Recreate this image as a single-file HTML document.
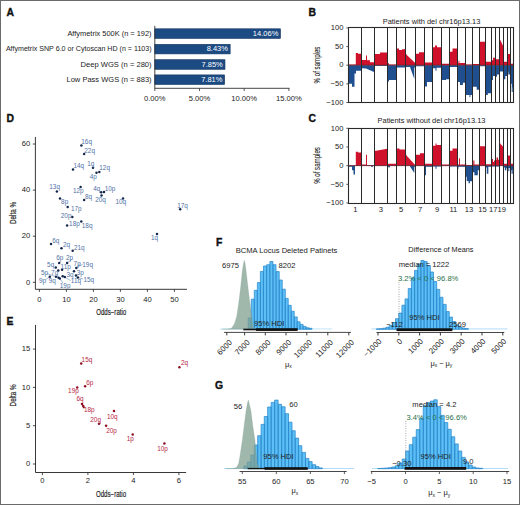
<!DOCTYPE html>
<html><head><meta charset="utf-8"><style>
html,body{margin:0;padding:0;background:#fff;}
svg{display:block;font-family:"Liberation Sans",sans-serif;}
</style></head><body>
<svg width="520" height="505" viewBox="0 0 520 505">
<rect width="520" height="505" fill="#fff"/>
<text x="6.60" y="16.30" font-size="10.4" font-weight="bold" fill="#111" stroke="#111" stroke-width="0.35">A</text>
<text x="308.40" y="16.30" font-size="10.4" font-weight="bold" fill="#111" stroke="#111" stroke-width="0.35">B</text>
<text x="308.40" y="122.30" font-size="10.4" font-weight="bold" fill="#111" stroke="#111" stroke-width="0.35">C</text>
<text x="6.40" y="121.60" font-size="10.4" font-weight="bold" fill="#111" stroke="#111" stroke-width="0.35">D</text>
<text x="6.60" y="325.00" font-size="10.4" font-weight="bold" fill="#111" stroke="#111" stroke-width="0.35">E</text>
<text x="216.00" y="246.20" font-size="10.4" font-weight="bold" fill="#111" stroke="#111" stroke-width="0.35">F</text>
<text x="215.00" y="388.70" font-size="10.4" font-weight="bold" fill="#111" stroke="#111" stroke-width="0.35">G</text>
<rect x="154.80" y="28.80" width="125.70" height="9.60" fill="#1c4b84" stroke="#15365f" stroke-width="0.6"/>
<text x="278.30" y="35.80" font-size="7.5" text-anchor="end" fill="#fff" >14.06%</text>
<text x="67.40" y="35.73" font-size="7.3" text-anchor="start" fill="#222"  textLength="84.20" lengthAdjust="spacingAndGlyphs">Affymetrix 500K (n = 192)</text>
<rect x="154.80" y="44.30" width="75.36" height="9.60" fill="#1c4b84" stroke="#15365f" stroke-width="0.6"/>
<text x="227.96" y="51.30" font-size="7.5" text-anchor="end" fill="#fff" >8.43%</text>
<text x="5.90" y="51.23" font-size="7.3" text-anchor="start" fill="#222"  textLength="145.70" lengthAdjust="spacingAndGlyphs">Affymetrix SNP 6.0 or Cytoscan HD (n = 1103)</text>
<rect x="154.80" y="59.70" width="70.18" height="9.60" fill="#1c4b84" stroke="#15365f" stroke-width="0.6"/>
<text x="222.78" y="66.70" font-size="7.5" text-anchor="end" fill="#fff" >7.85%</text>
<text x="80.60" y="66.63" font-size="7.3" text-anchor="start" fill="#222"  textLength="71.00" lengthAdjust="spacingAndGlyphs">Deep WGS (n = 280)</text>
<rect x="154.80" y="74.90" width="69.82" height="9.60" fill="#1c4b84" stroke="#15365f" stroke-width="0.6"/>
<text x="222.42" y="81.90" font-size="7.5" text-anchor="end" fill="#fff" >7.81%</text>
<text x="66.50" y="81.83" font-size="7.3" text-anchor="start" fill="#222"  textLength="85.10" lengthAdjust="spacingAndGlyphs">Low Pass WGS (n = 883)</text>
<line x1="154.80" y1="25.80" x2="154.80" y2="88.30" stroke="#333" stroke-width="0.9" />
<line x1="154.40" y1="88.30" x2="289.50" y2="88.30" stroke="#333" stroke-width="0.9" />
<line x1="154.80" y1="88.30" x2="154.80" y2="91.00" stroke="#333" stroke-width="0.8" />
<text x="154.80" y="100.74" font-size="7.6" text-anchor="middle" fill="#222" >0.00%</text>
<line x1="199.50" y1="88.30" x2="199.50" y2="91.00" stroke="#333" stroke-width="0.8" />
<text x="199.50" y="100.74" font-size="7.6" text-anchor="middle" fill="#222" >5.00%</text>
<line x1="244.20" y1="88.30" x2="244.20" y2="91.00" stroke="#333" stroke-width="0.8" />
<text x="244.20" y="100.74" font-size="7.6" text-anchor="middle" fill="#222" >10.00%</text>
<line x1="288.90" y1="88.30" x2="288.90" y2="91.00" stroke="#333" stroke-width="0.8" />
<text x="288.90" y="100.74" font-size="7.6" text-anchor="middle" fill="#222" >15.00%</text>
<path d="M349.00,65.20 L349.00,64.45 L355.80,64.45 L355.80,52.89 L358.00,52.89 L358.00,53.64 L361.60,53.64 L361.60,59.98 L366.00,59.98 L366.00,55.50 L367.00,55.50 L367.00,60.35 L370.00,60.35 L370.00,62.22 L374.60,62.22 L374.60,54.01 L380.00,54.01 L380.00,52.52 L387.30,52.52 L387.30,63.34 L389.00,63.34 L389.00,64.45 L396.60,64.45 L396.60,48.42 L399.00,48.42 L399.00,49.91 L402.00,49.91 L402.00,49.16 L405.60,49.16 L405.60,54.01 L406.50,54.01 L406.50,54.76 L415.50,63.34 L415.50,53.64 L419.00,53.64 L419.00,52.15 L424.50,52.15 L424.50,62.59 L432.70,62.59 L432.70,47.30 L435.00,47.30 L435.00,45.43 L437.00,45.43 L437.00,47.30 L441.30,47.30 L441.30,63.71 L449.60,63.71 L449.60,51.77 L452.50,51.77 L452.50,48.42 L457.20,48.42 L457.20,63.34 L458.47,63.34 L458.47,60.72 L459.45,60.72 L459.45,62.96 L465.50,62.96 L465.50,64.45 L472.50,64.45 L472.50,64.08 L479.20,64.08 L479.20,41.70 L485.60,41.70 L485.60,61.84 L491.00,61.84 L491.00,60.35 L493.00,60.35 L493.00,57.74 L495.60,57.74 L495.60,59.23 L499.80,59.23 L499.80,40.21 L500.56,40.21 L500.56,40.58 L503.70,47.30 L503.70,61.84 L507.45,61.84 L507.45,54.01 L510.65,54.01 L510.65,63.71 L513.70,63.71 L513.70,65.20 Z" fill="#d0112b"/>
<path d="M349.00,65.20 L349.00,83.85 L352.00,83.85 L352.00,86.83 L354.50,86.83 L354.50,73.41 L356.00,73.41 L356.00,70.80 L361.60,70.80 L361.60,68.18 L366.00,68.56 L366.00,68.56 L374.60,72.29 L374.60,65.95 L387.30,65.95 L387.30,81.61 L389.00,81.61 L389.00,80.12 L396.60,80.12 L396.60,67.44 L405.60,67.44 L405.60,67.06 L410.00,67.06 L410.00,67.06 L414.30,79.00 L414.30,67.44 L415.50,67.44 L415.50,66.32 L424.50,66.32 L424.50,86.46 L427.00,86.46 L427.00,81.98 L432.70,81.98 L432.70,68.18 L435.50,68.18 L435.50,70.80 L436.50,70.80 L436.50,67.81 L441.30,67.81 L441.30,80.12 L446.00,80.12 L446.00,79.37 L449.60,79.37 L449.60,67.06 L457.20,67.06 L457.20,81.98 L459.93,81.98 L459.93,84.97 L462.86,84.97 L462.86,82.73 L465.50,82.73 L465.50,95.04 L469.46,95.04 L469.46,97.28 L470.38,97.28 L470.38,95.04 L472.50,95.04 L472.50,86.83 L476.70,86.83 L476.70,89.82 L479.20,89.82 L479.20,66.32 L485.60,66.32 L485.60,95.04 L487.82,95.04 L487.82,93.18 L491.00,93.18 L491.00,80.12 L493.00,80.12 L493.00,76.02 L495.60,76.02 L495.60,76.76 L497.03,76.76 L497.03,74.53 L499.80,74.53 L499.80,71.54 L503.70,71.54 L503.70,79.37 L505.38,79.37 L505.38,76.02 L507.45,76.02 L507.45,71.54 L508.32,71.54 L508.32,74.53 L510.65,74.53 L510.65,83.85 L511.73,83.85 L511.73,92.06 L512.72,92.06 L512.72,87.58 L513.70,87.58 L513.70,65.20 Z" fill="#1f4f8f"/>
<line x1="349.00" y1="65.20" x2="513.70" y2="65.20" stroke="#5a1a22" stroke-width="0.7" />
<line x1="361.50" y1="27.90" x2="361.50" y2="102.50" stroke="#2a2a2a" stroke-width="1.0" />
<line x1="374.50" y1="27.90" x2="374.50" y2="102.50" stroke="#2a2a2a" stroke-width="1.0" />
<line x1="387.50" y1="27.90" x2="387.50" y2="102.50" stroke="#2a2a2a" stroke-width="1.0" />
<line x1="396.50" y1="27.90" x2="396.50" y2="102.50" stroke="#2a2a2a" stroke-width="1.0" />
<line x1="405.50" y1="27.90" x2="405.50" y2="102.50" stroke="#2a2a2a" stroke-width="1.0" />
<line x1="415.50" y1="27.90" x2="415.50" y2="102.50" stroke="#2a2a2a" stroke-width="1.0" />
<line x1="424.50" y1="27.90" x2="424.50" y2="102.50" stroke="#2a2a2a" stroke-width="1.0" />
<line x1="432.50" y1="27.90" x2="432.50" y2="102.50" stroke="#2a2a2a" stroke-width="1.0" />
<line x1="441.50" y1="27.90" x2="441.50" y2="102.50" stroke="#2a2a2a" stroke-width="1.0" />
<line x1="449.50" y1="27.90" x2="449.50" y2="102.50" stroke="#2a2a2a" stroke-width="1.0" />
<line x1="457.50" y1="27.90" x2="457.50" y2="102.50" stroke="#2a2a2a" stroke-width="1.0" />
<line x1="465.50" y1="27.90" x2="465.50" y2="102.50" stroke="#2a2a2a" stroke-width="1.0" />
<line x1="472.50" y1="27.90" x2="472.50" y2="102.50" stroke="#2a2a2a" stroke-width="1.0" />
<line x1="479.50" y1="27.90" x2="479.50" y2="102.50" stroke="#2a2a2a" stroke-width="1.0" />
<line x1="485.50" y1="27.90" x2="485.50" y2="102.50" stroke="#2a2a2a" stroke-width="1.0" />
<line x1="491.50" y1="27.90" x2="491.50" y2="102.50" stroke="#2a2a2a" stroke-width="1.0" />
<line x1="495.50" y1="27.90" x2="495.50" y2="102.50" stroke="#2a2a2a" stroke-width="1.0" />
<line x1="499.50" y1="27.90" x2="499.50" y2="102.50" stroke="#2a2a2a" stroke-width="1.0" />
<line x1="503.50" y1="27.90" x2="503.50" y2="102.50" stroke="#2a2a2a" stroke-width="1.0" />
<line x1="507.50" y1="27.90" x2="507.50" y2="102.50" stroke="#2a2a2a" stroke-width="1.0" />
<line x1="510.50" y1="27.90" x2="510.50" y2="102.50" stroke="#2a2a2a" stroke-width="1.0" />
<rect x="348.5" y="27.50" width="165.00" height="75.00" fill="none" stroke="#2a2a2a" stroke-width="1.1"/>
<line x1="346.30" y1="27.90" x2="349.00" y2="27.90" stroke="#333" stroke-width="0.8" />
<text x="343.40" y="30.14" font-size="7.6" text-anchor="end" fill="#222" >100</text>
<line x1="346.30" y1="46.55" x2="349.00" y2="46.55" stroke="#333" stroke-width="0.8" />
<text x="343.40" y="48.79" font-size="7.6" text-anchor="end" fill="#222" >50</text>
<line x1="346.30" y1="65.20" x2="349.00" y2="65.20" stroke="#333" stroke-width="0.8" />
<text x="343.40" y="67.44" font-size="7.6" text-anchor="end" fill="#222" >0</text>
<line x1="346.30" y1="83.85" x2="349.00" y2="83.85" stroke="#333" stroke-width="0.8" />
<text x="343.40" y="86.09" font-size="7.6" text-anchor="end" fill="#222" >−50</text>
<line x1="346.30" y1="102.50" x2="349.00" y2="102.50" stroke="#333" stroke-width="0.8" />
<text x="343.40" y="104.74" font-size="7.6" text-anchor="end" fill="#222" >−100</text>
<text x="431.50" y="23.98" font-size="7.45" text-anchor="middle" fill="#222" >Patients with del chr16p13.13</text>
<text transform="translate(319.8,65.00) rotate(-90) scale(0.73,1)" font-size="8.4" text-anchor="middle" fill="#222" stroke="#222" stroke-width="0.08">% of samples</text>
<path d="M349.00,165.65 L349.00,165.28 L355.80,165.28 L355.80,151.83 L358.00,151.83 L358.00,152.58 L361.60,152.58 L361.60,164.53 L366.00,164.53 L366.00,154.82 L367.00,154.82 L367.00,164.90 L374.60,164.90 L374.60,151.08 L387.30,148.84 L387.30,163.78 L396.60,163.78 L396.60,148.47 L399.50,148.47 L399.50,149.59 L405.60,149.59 L405.60,154.82 L406.50,154.82 L406.50,155.57 L414.00,163.78 L414.00,164.16 L415.50,164.16 L415.50,154.82 L420.00,154.82 L420.00,153.32 L424.50,153.32 L424.50,163.78 L432.70,163.78 L432.70,145.85 L435.50,145.85 L435.50,143.61 L436.50,143.61 L436.50,145.11 L441.30,145.11 L441.30,164.53 L449.60,164.53 L449.60,150.71 L452.50,150.71 L452.50,148.47 L457.20,148.47 L457.20,164.53 L458.96,164.53 L458.96,158.18 L459.93,158.18 L459.93,164.53 L465.50,164.53 L465.50,163.41 L466.24,163.41 L466.24,164.90 L472.50,164.90 L472.50,164.53 L473.29,164.53 L473.29,160.42 L474.43,160.42 L474.43,164.53 L479.20,164.53 L479.20,146.23 L485.60,146.23 L485.60,164.16 L491.00,164.16 L491.00,161.17 L492.00,161.17 L492.00,158.93 L493.00,158.93 L493.00,161.92 L494.00,161.92 L494.00,160.42 L495.60,160.42 L495.60,160.05 L496.52,160.05 L496.52,157.43 L498.06,157.43 L498.06,159.67 L499.80,159.67 L499.80,143.61 L500.56,143.61 L500.56,143.99 L503.70,147.35 L503.70,163.78 L507.45,163.78 L507.45,155.57 L510.65,155.57 L510.65,163.78 L513.70,163.78 L513.70,165.65 Z" fill="#d0112b"/>
<path d="M349.00,165.65 L349.00,166.77 L352.00,166.77 L352.00,170.13 L353.50,170.13 L353.50,174.61 L355.00,174.61 L355.00,166.02 L361.60,166.02 L361.60,166.02 L371.00,166.02 L371.00,166.77 L373.00,166.77 L373.00,166.02 L374.60,166.02 L374.60,166.02 L387.30,166.02 L387.30,167.14 L390.00,167.14 L390.00,166.02 L396.60,166.02 L396.60,166.02 L405.60,166.02 L405.60,166.02 L410.00,166.02 L410.00,166.40 L414.30,173.12 L414.30,166.77 L415.50,166.77 L415.50,166.02 L424.50,166.02 L424.50,175.36 L426.00,175.36 L426.00,166.77 L432.70,166.77 L432.70,166.40 L435.50,166.40 L435.50,168.64 L436.50,168.64 L436.50,166.40 L441.30,166.40 L441.30,166.02 L449.60,166.02 L449.60,166.40 L457.20,166.40 L457.20,168.64 L458.47,168.64 L458.47,166.77 L465.50,166.77 L465.50,176.86 L466.70,176.86 L466.70,180.96 L468.54,180.96 L468.54,183.20 L469.92,183.20 L469.92,181.34 L472.50,181.34 L472.50,172.37 L474.43,172.37 L474.43,175.36 L477.84,175.36 L477.84,170.13 L479.20,170.13 L479.20,166.02 L485.60,166.02 L485.60,167.52 L486.76,167.52 L486.76,173.87 L488.35,173.87 L488.35,166.77 L491.00,166.77 L491.00,166.40 L495.60,166.40 L495.60,166.40 L499.80,166.40 L499.80,166.02 L503.70,166.02 L503.70,167.52 L504.88,167.52 L504.88,170.13 L506.36,170.13 L506.36,167.89 L507.45,167.89 L507.45,167.89 L508.32,167.89 L508.32,171.25 L509.29,171.25 L509.29,167.89 L510.65,167.89 L510.65,170.13 L511.54,170.13 L511.54,173.87 L512.72,173.87 L512.72,169.38 L513.70,169.38 L513.70,165.65 Z" fill="#1f4f8f"/>
<line x1="349.00" y1="165.65" x2="513.70" y2="165.65" stroke="#5a1a22" stroke-width="0.7" />
<line x1="361.50" y1="128.30" x2="361.50" y2="203.00" stroke="#2a2a2a" stroke-width="1.0" />
<line x1="374.50" y1="128.30" x2="374.50" y2="203.00" stroke="#2a2a2a" stroke-width="1.0" />
<line x1="387.50" y1="128.30" x2="387.50" y2="203.00" stroke="#2a2a2a" stroke-width="1.0" />
<line x1="396.50" y1="128.30" x2="396.50" y2="203.00" stroke="#2a2a2a" stroke-width="1.0" />
<line x1="405.50" y1="128.30" x2="405.50" y2="203.00" stroke="#2a2a2a" stroke-width="1.0" />
<line x1="415.50" y1="128.30" x2="415.50" y2="203.00" stroke="#2a2a2a" stroke-width="1.0" />
<line x1="424.50" y1="128.30" x2="424.50" y2="203.00" stroke="#2a2a2a" stroke-width="1.0" />
<line x1="432.50" y1="128.30" x2="432.50" y2="203.00" stroke="#2a2a2a" stroke-width="1.0" />
<line x1="441.50" y1="128.30" x2="441.50" y2="203.00" stroke="#2a2a2a" stroke-width="1.0" />
<line x1="449.50" y1="128.30" x2="449.50" y2="203.00" stroke="#2a2a2a" stroke-width="1.0" />
<line x1="457.50" y1="128.30" x2="457.50" y2="203.00" stroke="#2a2a2a" stroke-width="1.0" />
<line x1="465.50" y1="128.30" x2="465.50" y2="203.00" stroke="#2a2a2a" stroke-width="1.0" />
<line x1="472.50" y1="128.30" x2="472.50" y2="203.00" stroke="#2a2a2a" stroke-width="1.0" />
<line x1="479.50" y1="128.30" x2="479.50" y2="203.00" stroke="#2a2a2a" stroke-width="1.0" />
<line x1="485.50" y1="128.30" x2="485.50" y2="203.00" stroke="#2a2a2a" stroke-width="1.0" />
<line x1="491.50" y1="128.30" x2="491.50" y2="203.00" stroke="#2a2a2a" stroke-width="1.0" />
<line x1="495.50" y1="128.30" x2="495.50" y2="203.00" stroke="#2a2a2a" stroke-width="1.0" />
<line x1="499.50" y1="128.30" x2="499.50" y2="203.00" stroke="#2a2a2a" stroke-width="1.0" />
<line x1="503.50" y1="128.30" x2="503.50" y2="203.00" stroke="#2a2a2a" stroke-width="1.0" />
<line x1="507.50" y1="128.30" x2="507.50" y2="203.00" stroke="#2a2a2a" stroke-width="1.0" />
<line x1="510.50" y1="128.30" x2="510.50" y2="203.00" stroke="#2a2a2a" stroke-width="1.0" />
<rect x="348.5" y="128.50" width="165.00" height="75.00" fill="none" stroke="#2a2a2a" stroke-width="1.1"/>
<line x1="346.30" y1="128.30" x2="349.00" y2="128.30" stroke="#333" stroke-width="0.8" />
<text x="343.40" y="130.54" font-size="7.6" text-anchor="end" fill="#222" >100</text>
<line x1="346.30" y1="146.98" x2="349.00" y2="146.98" stroke="#333" stroke-width="0.8" />
<text x="343.40" y="149.21" font-size="7.6" text-anchor="end" fill="#222" >50</text>
<line x1="346.30" y1="165.65" x2="349.00" y2="165.65" stroke="#333" stroke-width="0.8" />
<text x="343.40" y="167.89" font-size="7.6" text-anchor="end" fill="#222" >0</text>
<line x1="346.30" y1="184.32" x2="349.00" y2="184.32" stroke="#333" stroke-width="0.8" />
<text x="343.40" y="186.56" font-size="7.6" text-anchor="end" fill="#222" >−50</text>
<line x1="346.30" y1="203.00" x2="349.00" y2="203.00" stroke="#333" stroke-width="0.8" />
<text x="343.40" y="205.24" font-size="7.6" text-anchor="end" fill="#222" >−100</text>
<text x="431.50" y="122.88" font-size="7.45" text-anchor="middle" fill="#222" >Patients without del chr16p13.13</text>
<text transform="translate(319.8,165.45) rotate(-90) scale(0.73,1)" font-size="8.4" text-anchor="middle" fill="#222" stroke="#222" stroke-width="0.08">% of samples</text>
<text x="355.30" y="212.44" font-size="7.6" text-anchor="middle" fill="#222" >1</text>
<text x="380.95" y="212.44" font-size="7.6" text-anchor="middle" fill="#222" >3</text>
<text x="401.10" y="212.44" font-size="7.6" text-anchor="middle" fill="#222" >5</text>
<text x="420.00" y="212.44" font-size="7.6" text-anchor="middle" fill="#222" >7</text>
<text x="437.00" y="212.44" font-size="7.6" text-anchor="middle" fill="#222" >9</text>
<text x="453.40" y="212.44" font-size="7.6" text-anchor="middle" fill="#222" >11</text>
<text x="469.00" y="212.44" font-size="7.6" text-anchor="middle" fill="#222" >13</text>
<text x="482.40" y="212.44" font-size="7.6" text-anchor="middle" fill="#222" >15</text>
<text x="493.30" y="212.44" font-size="7.6" text-anchor="middle" fill="#222" >17</text>
<text x="501.75" y="212.44" font-size="7.6" text-anchor="middle" fill="#222" >19</text>
<line x1="35.40" y1="136.90" x2="35.40" y2="289.30" stroke="#222" stroke-width="0.9" />
<line x1="35.40" y1="289.30" x2="187.00" y2="289.30" stroke="#222" stroke-width="0.9" />
<line x1="39.40" y1="289.30" x2="39.40" y2="291.90" stroke="#222" stroke-width="0.8" />
<text x="39.40" y="301.74" font-size="7.6" text-anchor="middle" fill="#222" >0</text>
<line x1="66.40" y1="289.30" x2="66.40" y2="291.90" stroke="#222" stroke-width="0.8" />
<text x="66.40" y="301.74" font-size="7.6" text-anchor="middle" fill="#222" >10</text>
<line x1="93.40" y1="289.30" x2="93.40" y2="291.90" stroke="#222" stroke-width="0.8" />
<text x="93.40" y="301.74" font-size="7.6" text-anchor="middle" fill="#222" >20</text>
<line x1="120.40" y1="289.30" x2="120.40" y2="291.90" stroke="#222" stroke-width="0.8" />
<text x="120.40" y="301.74" font-size="7.6" text-anchor="middle" fill="#222" >30</text>
<line x1="147.40" y1="289.30" x2="147.40" y2="291.90" stroke="#222" stroke-width="0.8" />
<text x="147.40" y="301.74" font-size="7.6" text-anchor="middle" fill="#222" >40</text>
<line x1="174.40" y1="289.30" x2="174.40" y2="291.90" stroke="#222" stroke-width="0.8" />
<text x="174.40" y="301.74" font-size="7.6" text-anchor="middle" fill="#222" >50</text>
<line x1="32.80" y1="282.30" x2="35.40" y2="282.30" stroke="#222" stroke-width="0.8" />
<text x="30.20" y="284.54" font-size="7.6" text-anchor="end" fill="#222" >0</text>
<line x1="32.80" y1="236.20" x2="35.40" y2="236.20" stroke="#222" stroke-width="0.8" />
<text x="30.20" y="238.44" font-size="7.6" text-anchor="end" fill="#222" >20</text>
<line x1="32.80" y1="190.10" x2="35.40" y2="190.10" stroke="#222" stroke-width="0.8" />
<text x="30.20" y="192.34" font-size="7.6" text-anchor="end" fill="#222" >40</text>
<line x1="32.80" y1="144.00" x2="35.40" y2="144.00" stroke="#222" stroke-width="0.8" />
<text x="30.20" y="146.24" font-size="7.6" text-anchor="end" fill="#222" >60</text>
<text transform="translate(111.20,314.60) scale(0.73,1)" font-size="8.4" text-anchor="middle" fill="#222" stroke="#222" stroke-width="0.18">Odds−ratio</text>
<text transform="translate(16.2,213.00) rotate(-90) scale(0.75,1)" font-size="8.4" text-anchor="middle" fill="#222" stroke="#222" stroke-width="0.18">Delta %</text>
<line x1="72.00" y1="259.50" x2="67.40" y2="262.50" stroke="#4f72a6" stroke-width="0.5" />
<line x1="82.50" y1="264.50" x2="76.50" y2="267.60" stroke="#4f72a6" stroke-width="0.5" />
<line x1="47.00" y1="273.50" x2="55.60" y2="276.50" stroke="#4f72a6" stroke-width="0.5" />
<line x1="45.50" y1="279.50" x2="49.50" y2="277.00" stroke="#4f72a6" stroke-width="0.5" />
<line x1="70.50" y1="280.50" x2="65.00" y2="277.30" stroke="#4f72a6" stroke-width="0.5" />
<line x1="83.20" y1="279.00" x2="78.20" y2="277.60" stroke="#4f72a6" stroke-width="0.5" />
<line x1="63.00" y1="283.00" x2="59.90" y2="278.80" stroke="#4f72a6" stroke-width="0.5" />
<line x1="80.00" y1="263.50" x2="76.40" y2="267.60" stroke="#4f72a6" stroke-width="0.5" />
<circle cx="81.40" cy="145.40" r="1.25" fill="#14284d"/>
<text x="81.30" y="143.60" font-size="6.4" text-anchor="start" fill="#4f72a6" >16q</text>
<circle cx="84.10" cy="154.10" r="1.25" fill="#14284d"/>
<text x="84.30" y="152.90" font-size="6.4" text-anchor="start" fill="#4f72a6" >22q</text>
<circle cx="73.00" cy="169.60" r="1.25" fill="#14284d"/>
<text x="73.50" y="168.40" font-size="6.4" text-anchor="start" fill="#4f72a6" >14q</text>
<circle cx="93.00" cy="167.70" r="1.25" fill="#14284d"/>
<text x="87.30" y="166.30" font-size="6.4" text-anchor="start" fill="#4f72a6" >1q</text>
<circle cx="96.50" cy="172.80" r="1.25" fill="#14284d"/>
<circle cx="99.30" cy="172.00" r="1.25" fill="#14284d"/>
<text x="99.30" y="170.30" font-size="6.4" text-anchor="start" fill="#4f72a6" >12q</text>
<text x="89.80" y="178.70" font-size="6.4" text-anchor="start" fill="#4f72a6" >4p</text>
<circle cx="80.60" cy="186.90" r="1.25" fill="#14284d"/>
<text x="73.00" y="193.20" font-size="6.4" text-anchor="start" fill="#4f72a6" >12p</text>
<circle cx="101.20" cy="192.30" r="1.25" fill="#14284d"/>
<text x="93.30" y="190.60" font-size="6.4" text-anchor="start" fill="#4f72a6" >4q</text>
<circle cx="104.00" cy="192.10" r="1.25" fill="#14284d"/>
<text x="104.70" y="190.90" font-size="6.4" text-anchor="start" fill="#4f72a6" >10p</text>
<circle cx="101.50" cy="195.50" r="1.25" fill="#14284d"/>
<text x="95.20" y="202.00" font-size="6.4" text-anchor="start" fill="#4f72a6" >20q</text>
<circle cx="84.10" cy="200.00" r="1.25" fill="#14284d"/>
<text x="85.00" y="198.90" font-size="6.4" text-anchor="start" fill="#4f72a6" >8q</text>
<circle cx="123.00" cy="198.50" r="1.25" fill="#14284d"/>
<text x="115.50" y="204.40" font-size="6.4" text-anchor="start" fill="#4f72a6" >10q</text>
<circle cx="56.90" cy="191.60" r="1.25" fill="#14284d"/>
<text x="49.30" y="189.40" font-size="6.4" text-anchor="start" fill="#4f72a6" >13q</text>
<circle cx="60.00" cy="198.40" r="1.25" fill="#14284d"/>
<text x="61.10" y="204.30" font-size="6.4" text-anchor="start" fill="#4f72a6" >8p</text>
<circle cx="67.70" cy="207.10" r="1.25" fill="#14284d"/>
<text x="70.90" y="210.80" font-size="6.4" text-anchor="start" fill="#4f72a6" >17p</text>
<circle cx="72.30" cy="217.10" r="1.25" fill="#14284d"/>
<text x="60.80" y="217.90" font-size="6.4" text-anchor="start" fill="#4f72a6" >20p</text>
<circle cx="67.10" cy="225.40" r="1.25" fill="#14284d"/>
<text x="69.10" y="226.30" font-size="6.4" text-anchor="start" fill="#4f72a6" >18p</text>
<circle cx="81.30" cy="221.60" r="1.25" fill="#14284d"/>
<text x="81.80" y="228.00" font-size="6.4" text-anchor="start" fill="#4f72a6" >18q</text>
<circle cx="180.20" cy="209.30" r="1.25" fill="#14284d"/>
<text x="177.20" y="208.30" font-size="6.4" text-anchor="start" fill="#4f72a6" >17q</text>
<circle cx="157.00" cy="234.00" r="1.25" fill="#14284d"/>
<text x="151.00" y="239.90" font-size="6.4" text-anchor="start" fill="#4f72a6" >1q</text>
<circle cx="51.00" cy="244.00" r="1.25" fill="#14284d"/>
<text x="52.30" y="243.30" font-size="6.4" text-anchor="start" fill="#4f72a6" >6q</text>
<circle cx="61.50" cy="248.30" r="1.25" fill="#14284d"/>
<text x="63.00" y="246.70" font-size="6.4" text-anchor="start" fill="#4f72a6" >2q</text>
<circle cx="72.70" cy="250.80" r="1.25" fill="#14284d"/>
<text x="74.00" y="249.60" font-size="6.4" text-anchor="start" fill="#4f72a6" >21q</text>
<circle cx="59.20" cy="262.90" r="1.25" fill="#14284d"/>
<text x="56.30" y="260.10" font-size="6.4" text-anchor="start" fill="#4f72a6" >6p</text>
<circle cx="67.10" cy="262.90" r="1.25" fill="#14284d"/>
<text x="65.90" y="259.50" font-size="6.4" text-anchor="start" fill="#4f72a6" >2p</text>
<circle cx="55.80" cy="267.50" r="1.25" fill="#14284d"/>
<text x="47.10" y="267.30" font-size="6.4" text-anchor="start" fill="#4f72a6" >5q</text>
<circle cx="58.30" cy="270.50" r="1.25" fill="#14284d"/>
<circle cx="62.10" cy="269.80" r="1.25" fill="#14284d"/>
<text x="60.60" y="269.40" font-size="6.4" text-anchor="start" fill="#4f72a6" >11p</text>
<circle cx="76.30" cy="267.90" r="1.25" fill="#14284d"/>
<text x="73.60" y="265.90" font-size="6.4" text-anchor="start" fill="#4f72a6" >7p</text>
<text x="82.30" y="267.10" font-size="6.4" text-anchor="start" fill="#4f72a6" >19q</text>
<circle cx="74.00" cy="271.30" r="1.25" fill="#14284d"/>
<text x="76.80" y="274.80" font-size="6.4" text-anchor="start" fill="#4f72a6" >3p</text>
<text x="41.00" y="274.80" font-size="6.4" text-anchor="start" fill="#4f72a6" >5p</text>
<circle cx="56.00" cy="276.80" r="1.25" fill="#14284d"/>
<text x="51.10" y="274.80" font-size="6.4" text-anchor="start" fill="#4f72a6" >7q</text>
<circle cx="62.70" cy="276.30" r="1.25" fill="#14284d"/>
<circle cx="64.80" cy="277.10" r="1.25" fill="#14284d"/>
<text x="66.40" y="276.50" font-size="6.4" text-anchor="start" fill="#4f72a6" >3q</text>
<circle cx="49.80" cy="276.80" r="1.25" fill="#14284d"/>
<text x="39.00" y="282.90" font-size="6.4" text-anchor="start" fill="#4f72a6" >9p</text>
<circle cx="58.60" cy="277.70" r="1.25" fill="#14284d"/>
<text x="48.80" y="283.20" font-size="6.4" text-anchor="start" fill="#4f72a6" >9q</text>
<circle cx="59.80" cy="278.60" r="1.25" fill="#14284d"/>
<text x="59.80" y="287.50" font-size="6.4" text-anchor="start" fill="#4f72a6" >19p</text>
<text x="70.80" y="283.40" font-size="6.4" text-anchor="start" fill="#4f72a6" >11q</text>
<circle cx="76.00" cy="275.60" r="1.25" fill="#14284d"/>
<circle cx="77.90" cy="277.50" r="1.25" fill="#14284d"/>
<text x="83.40" y="281.70" font-size="6.4" text-anchor="start" fill="#4f72a6" >15q</text>
<line x1="35.50" y1="324.90" x2="35.50" y2="472.50" stroke="#222" stroke-width="0.9" />
<line x1="35.50" y1="472.50" x2="186.10" y2="472.50" stroke="#222" stroke-width="0.9" />
<line x1="42.40" y1="472.50" x2="42.40" y2="475.10" stroke="#222" stroke-width="0.8" />
<text x="42.40" y="483.04" font-size="7.6" text-anchor="middle" fill="#222" >0</text>
<line x1="87.90" y1="472.50" x2="87.90" y2="475.10" stroke="#222" stroke-width="0.8" />
<text x="87.90" y="483.04" font-size="7.6" text-anchor="middle" fill="#222" >2</text>
<line x1="133.40" y1="472.50" x2="133.40" y2="475.10" stroke="#222" stroke-width="0.8" />
<text x="133.40" y="483.04" font-size="7.6" text-anchor="middle" fill="#222" >4</text>
<line x1="178.90" y1="472.50" x2="178.90" y2="475.10" stroke="#222" stroke-width="0.8" />
<text x="178.90" y="483.04" font-size="7.6" text-anchor="middle" fill="#222" >6</text>
<line x1="32.90" y1="464.00" x2="35.50" y2="464.00" stroke="#222" stroke-width="0.8" />
<text x="30.30" y="466.24" font-size="7.6" text-anchor="end" fill="#222" >0</text>
<line x1="32.90" y1="425.70" x2="35.50" y2="425.70" stroke="#222" stroke-width="0.8" />
<text x="30.30" y="427.94" font-size="7.6" text-anchor="end" fill="#222" >5</text>
<line x1="32.90" y1="387.40" x2="35.50" y2="387.40" stroke="#222" stroke-width="0.8" />
<text x="30.30" y="389.64" font-size="7.6" text-anchor="end" fill="#222" >10</text>
<line x1="32.90" y1="349.10" x2="35.50" y2="349.10" stroke="#222" stroke-width="0.8" />
<text x="30.30" y="351.34" font-size="7.6" text-anchor="end" fill="#222" >15</text>
<text transform="translate(111.00,496.60) scale(0.73,1)" font-size="8.4" text-anchor="middle" fill="#222" stroke="#222" stroke-width="0.18">Odds−ratio</text>
<text transform="translate(16.2,395.4) rotate(-90) scale(0.75,1)" font-size="8.4" text-anchor="middle" fill="#222" stroke="#222" stroke-width="0.18">Delta %</text>
<circle cx="81.20" cy="363.60" r="1.25" fill="#8e0f22"/>
<text x="81.60" y="362.10" font-size="6.4" text-anchor="start" fill="#b8243f" >15q</text>
<circle cx="179.40" cy="367.20" r="1.25" fill="#8e0f22"/>
<text x="181.00" y="364.80" font-size="6.4" text-anchor="start" fill="#b8243f" >2q</text>
<circle cx="77.20" cy="387.40" r="1.25" fill="#8e0f22"/>
<text x="68.10" y="393.40" font-size="6.4" text-anchor="start" fill="#b8243f" >19p</text>
<circle cx="85.10" cy="386.20" r="1.25" fill="#8e0f22"/>
<text x="86.30" y="385.40" font-size="6.4" text-anchor="start" fill="#b8243f" >6p</text>
<circle cx="82.00" cy="404.00" r="1.25" fill="#8e0f22"/>
<text x="76.40" y="401.30" font-size="6.4" text-anchor="start" fill="#b8243f" >6q</text>
<circle cx="83.20" cy="406.00" r="1.25" fill="#8e0f22"/>
<text x="84.00" y="412.40" font-size="6.4" text-anchor="start" fill="#b8243f" >18p</text>
<circle cx="99.00" cy="423.80" r="1.25" fill="#8e0f22"/>
<text x="90.30" y="422.30" font-size="6.4" text-anchor="start" fill="#b8243f" >20q</text>
<circle cx="114.00" cy="411.10" r="1.25" fill="#8e0f22"/>
<text x="107.00" y="418.70" font-size="6.4" text-anchor="start" fill="#b8243f" >10q</text>
<circle cx="106.10" cy="425.80" r="1.25" fill="#8e0f22"/>
<text x="106.20" y="432.50" font-size="6.4" text-anchor="start" fill="#b8243f" >20p</text>
<circle cx="132.70" cy="434.50" r="1.25" fill="#8e0f22"/>
<text x="126.70" y="441.30" font-size="6.4" text-anchor="start" fill="#b8243f" >1p</text>
<circle cx="164.40" cy="443.60" r="1.25" fill="#8e0f22"/>
<text x="157.20" y="450.80" font-size="6.4" text-anchor="start" fill="#b8243f" >10p</text>
<circle cx="83.8" cy="407.3" r="1.1" fill="#8e0f22"/>
<rect x="220.00" y="328.60" width="112.00" height="0.70" fill="#a6d9f5" />
<path d="M248.18,329.30 V318.00 H251.23 V329.30 Z M251.28,329.30 V299.20 H254.33 V329.30 Z M254.28,329.30 V290.30 H257.32 V329.30 Z M257.38,329.30 V282.60 H260.43 V329.30 Z M260.38,329.30 V271.40 H263.43 V329.30 Z M263.48,329.30 V266.00 H266.52 V329.30 Z M266.68,329.30 V264.70 H269.72 V329.30 Z M269.88,329.30 V261.50 H272.93 V329.30 Z M272.98,329.30 V264.70 H276.02 V329.30 Z M276.18,329.30 V271.60 H279.22 V329.30 Z M279.18,329.30 V280.00 H282.22 V329.30 Z M282.28,329.30 V289.20 H285.32 V329.30 Z M285.18,329.30 V298.40 H288.22 V329.30 Z M288.18,329.30 V305.30 H291.22 V329.30 Z M291.18,329.30 V311.20 H294.22 V329.30 Z M294.18,329.30 V316.90 H297.22 V329.30 Z M297.08,329.30 V321.80 H300.12 V329.30 Z M300.08,329.30 V324.40 H303.12 V329.30 Z M303.08,329.30 V326.40 H306.12 V329.30 Z M305.98,329.30 V327.80 H309.02 V329.30 Z M308.98,329.30 V328.30 H312.02 V329.30 Z" fill="#5cc0f6" stroke="#2c88cc" stroke-width="0.75"/>
<path d="M222.00,329.30 L228.00,329.00 L231.50,328.30 L234.50,323.70 L236.80,316.20 L239.00,301.10 L240.80,286.10 L242.30,271.00 L243.50,263.50 L244.30,260.20 L245.10,263.50 L246.10,271.00 L247.80,286.10 L249.60,301.10 L251.80,316.20 L252.60,323.70 L253.60,328.30 L256.00,329.00 L262.00,329.30 Z" fill="#809f90" fill-opacity="0.75" stroke="#809f90" stroke-opacity="0.5" stroke-width="0.5"/>
<rect x="243.30" y="328.70" width="54.20" height="1.60" fill="#111" />
<rect x="256.00" y="328.30" width="41.50" height="2.60" fill="#111" />
<line x1="224.10" y1="332.40" x2="351.00" y2="332.40" stroke="#333" stroke-width="0.9" />
<line x1="226.80" y1="332.40" x2="226.80" y2="335.40" stroke="#222" stroke-width="0.9" />
<text transform="translate(232.60,343.00) rotate(-45)" font-size="7.9" text-anchor="end" fill="#222">6000</text>
<line x1="244.60" y1="332.40" x2="244.60" y2="335.40" stroke="#222" stroke-width="0.9" />
<text transform="translate(250.40,343.00) rotate(-45)" font-size="7.9" text-anchor="end" fill="#222">7000</text>
<line x1="265.30" y1="332.40" x2="265.30" y2="335.40" stroke="#222" stroke-width="0.9" />
<text transform="translate(271.10,343.00) rotate(-45)" font-size="7.9" text-anchor="end" fill="#222">8000</text>
<line x1="286.00" y1="332.40" x2="286.00" y2="335.40" stroke="#222" stroke-width="0.9" />
<text transform="translate(291.80,343.00) rotate(-45)" font-size="7.9" text-anchor="end" fill="#222">9000</text>
<line x1="306.80" y1="332.40" x2="306.80" y2="335.40" stroke="#222" stroke-width="0.9" />
<text transform="translate(312.60,343.00) rotate(-45)" font-size="7.9" text-anchor="end" fill="#222">10000</text>
<line x1="327.80" y1="332.40" x2="327.80" y2="335.40" stroke="#222" stroke-width="0.9" />
<text transform="translate(333.60,343.00) rotate(-45)" font-size="7.9" text-anchor="end" fill="#222">11000</text>
<line x1="348.80" y1="332.40" x2="348.80" y2="335.40" stroke="#222" stroke-width="0.9" />
<text transform="translate(354.60,343.00) rotate(-45)" font-size="7.9" text-anchor="end" fill="#222">12000</text>
<text x="239.00" y="267.94" font-size="7.6" text-anchor="end" fill="#222" >6975</text>
<text x="278.50" y="268.24" font-size="7.6" text-anchor="start" fill="#222" >8202</text>
<text x="269.20" y="325.84" font-size="7.6" text-anchor="middle" fill="#222" >95% HDI</text>
<text x="292.00" y="252.46" font-size="7.4" text-anchor="start" fill="#222" ></text>
<text x="286.50" y="252.54" font-size="7.6" text-anchor="middle" fill="#222" >BCMA Locus Deleted Patinets</text>
<text x="285" y="366.5" font-size="7.4" fill="#222">μ<tspan font-size="5" dy="1.5">x</tspan></text>
<rect x="371.50" y="328.60" width="136.00" height="0.70" fill="#8fd0f5" />
<path d="M376.31,329.30 V328.90 H379.48 V329.30 Z M379.52,329.30 V328.70 H382.69 V329.30 Z M382.72,329.30 V328.20 H385.88 V329.30 Z M385.92,329.30 V327.30 H389.08 V329.30 Z M389.12,329.30 V325.50 H392.28 V329.30 Z M392.31,329.30 V322.50 H395.48 V329.30 Z M395.52,329.30 V318.70 H398.69 V329.30 Z M398.72,329.30 V313.10 H401.88 V329.30 Z M401.92,329.30 V305.20 H405.08 V329.30 Z M405.02,329.30 V298.90 H408.19 V329.30 Z M408.22,329.30 V288.60 H411.38 V329.30 Z M411.42,329.30 V278.00 H414.58 V329.30 Z M414.52,329.30 V270.40 H417.69 V329.30 Z M417.72,329.30 V264.00 H420.88 V329.30 Z M420.92,329.30 V260.50 H424.08 V329.30 Z M424.02,329.30 V261.60 H427.19 V329.30 Z M427.22,329.30 V265.60 H430.38 V329.30 Z M430.31,329.30 V272.00 H433.48 V329.30 Z M433.52,329.30 V281.50 H436.69 V329.30 Z M436.62,329.30 V289.40 H439.78 V329.30 Z M439.81,329.30 V297.30 H442.98 V329.30 Z M443.02,329.30 V304.40 H446.19 V329.30 Z M446.12,329.30 V311.60 H449.28 V329.30 Z M449.31,329.30 V317.10 H452.48 V329.30 Z M452.42,329.30 V321.50 H455.58 V329.30 Z M455.62,329.30 V325.00 H458.78 V329.30 Z M458.81,329.30 V327.00 H461.98 V329.30 Z M462.02,329.30 V328.00 H465.19 V329.30 Z M465.22,329.30 V328.60 H468.38 V329.30 Z" fill="#5cc0f6" stroke="#2c88cc" stroke-width="0.75"/>
<rect x="396.50" y="328.30" width="55.90" height="2.80" fill="#111" />
<line x1="376.50" y1="332.50" x2="504.30" y2="332.50" stroke="#333" stroke-width="0.9" />
<line x1="378.00" y1="332.50" x2="378.00" y2="335.50" stroke="#222" stroke-width="0.9" />
<text transform="translate(382.10,341.90) rotate(-45)" font-size="7.9" text-anchor="end" fill="#222">−1000</text>
<line x1="398.80" y1="332.50" x2="398.80" y2="335.50" stroke="#222" stroke-width="0.9" />
<text transform="translate(402.90,341.90) rotate(-45)" font-size="7.9" text-anchor="end" fill="#222">0</text>
<line x1="419.60" y1="332.50" x2="419.60" y2="335.50" stroke="#222" stroke-width="0.9" />
<text transform="translate(423.70,341.90) rotate(-45)" font-size="7.9" text-anchor="end" fill="#222">1000</text>
<line x1="440.40" y1="332.50" x2="440.40" y2="335.50" stroke="#222" stroke-width="0.9" />
<text transform="translate(444.50,341.90) rotate(-45)" font-size="7.9" text-anchor="end" fill="#222">2000</text>
<line x1="461.20" y1="332.50" x2="461.20" y2="335.50" stroke="#222" stroke-width="0.9" />
<text transform="translate(465.30,341.90) rotate(-45)" font-size="7.9" text-anchor="end" fill="#222">3000</text>
<line x1="482.00" y1="332.50" x2="482.00" y2="335.50" stroke="#222" stroke-width="0.9" />
<text transform="translate(486.10,341.90) rotate(-45)" font-size="7.9" text-anchor="end" fill="#222">4000</text>
<line x1="502.80" y1="332.50" x2="502.80" y2="335.50" stroke="#222" stroke-width="0.9" />
<text transform="translate(506.90,341.90) rotate(-45)" font-size="7.9" text-anchor="end" fill="#222">5000</text>
<line x1="399.0" y1="282" x2="399.0" y2="328" stroke="#777" stroke-width="0.8" stroke-dasharray="0.8,1.6"/>
<text x="440.90" y="251.93" font-size="7.3" text-anchor="middle" fill="#222" >Difference of Means</text>
<text x="424.00" y="267.34" font-size="7.6" text-anchor="middle" fill="#222" >median = 1222</text>
<text x="428.20" y="280.84" font-size="7.6" text-anchor="middle" fill="#2a7048" >3.2% &lt; 0 &lt; 96.8%</text>
<text x="424.40" y="319.54" font-size="7.6" text-anchor="middle" fill="#222" >95% HDI</text>
<text x="402.70" y="326.94" font-size="7.6" text-anchor="end" fill="#222" >−112</text>
<text x="449.00" y="326.94" font-size="7.6" text-anchor="start" fill="#222" >2569</text>
<text x="430.4" y="365.5" font-size="7.4" fill="#222">μ<tspan font-size="5" dy="1.5">x</tspan><tspan dy="-1.5"> − μ</tspan><tspan font-size="5" dy="1.5">y</tspan></text>
<rect x="224.00" y="468.00" width="130.00" height="0.70" fill="#8fd0f5" />
<path d="M243.78,468.70 V466.00 H247.22 V468.70 Z M247.28,468.70 V462.00 H250.72 V468.70 Z M250.78,468.70 V455.00 H254.22 V468.70 Z M254.28,468.70 V445.00 H257.73 V468.70 Z M257.67,468.70 V435.70 H261.12 V468.70 Z M261.07,468.70 V424.40 H264.53 V468.70 Z M264.27,468.70 V416.50 H267.73 V468.70 Z M267.67,468.70 V407.00 H271.12 V468.70 Z M271.17,468.70 V402.40 H274.62 V468.70 Z M274.67,468.70 V400.10 H278.12 V468.70 Z M278.17,468.70 V404.30 H281.62 V468.70 Z M281.67,468.70 V406.80 H285.12 V468.70 Z M285.07,468.70 V413.70 H288.53 V468.70 Z M288.57,468.70 V422.20 H292.03 V468.70 Z M291.77,468.70 V430.70 H295.23 V468.70 Z M295.17,468.70 V438.10 H298.62 V468.70 Z M298.38,468.70 V445.70 H301.83 V468.70 Z M302.07,468.70 V452.40 H305.53 V468.70 Z M305.47,468.70 V458.40 H308.93 V468.70 Z M308.67,468.70 V461.60 H312.12 V468.70 Z M312.27,468.70 V464.70 H315.73 V468.70 Z M315.47,468.70 V466.60 H318.93 V468.70 Z M318.97,468.70 V467.90 H322.43 V468.70 Z" fill="#5cc0f6" stroke="#2c88cc" stroke-width="0.75"/>
<path d="M226.00,468.70 L232.00,468.40 L236.50,467.50 L238.70,463.40 L240.20,454.70 L242.40,440.00 L244.20,425.30 L246.10,410.70 L247.40,403.50 L248.30,400.10 L249.20,403.50 L250.90,410.70 L252.70,425.30 L254.90,440.00 L256.30,454.70 L257.10,463.40 L258.50,467.50 L262.00,468.40 L268.00,468.70 Z" fill="#809f90" fill-opacity="0.75" stroke="#809f90" stroke-opacity="0.5" stroke-width="0.5"/>
<rect x="247.70" y="467.90" width="60.00" height="1.30" fill="#111" />
<rect x="264.50" y="467.20" width="43.10" height="2.60" fill="#111" />
<line x1="239.50" y1="471.50" x2="346.70" y2="471.50" stroke="#333" stroke-width="0.9" />
<line x1="242.30" y1="471.50" x2="242.30" y2="474.10" stroke="#333" stroke-width="0.8" />
<text x="242.30" y="483.64" font-size="7.6" text-anchor="middle" fill="#222" >55</text>
<line x1="276.33" y1="471.50" x2="276.33" y2="474.10" stroke="#333" stroke-width="0.8" />
<text x="276.33" y="483.64" font-size="7.6" text-anchor="middle" fill="#222" >60</text>
<line x1="310.36" y1="471.50" x2="310.36" y2="474.10" stroke="#333" stroke-width="0.8" />
<text x="310.36" y="483.64" font-size="7.6" text-anchor="middle" fill="#222" >65</text>
<line x1="344.39" y1="471.50" x2="344.39" y2="474.10" stroke="#333" stroke-width="0.8" />
<text x="344.39" y="483.64" font-size="7.6" text-anchor="middle" fill="#222" >70</text>
<text x="242.20" y="408.64" font-size="7.6" text-anchor="end" fill="#222" >56</text>
<text x="289.30" y="406.74" font-size="7.6" text-anchor="start" fill="#222" >60</text>
<text x="278.40" y="459.24" font-size="7.6" text-anchor="middle" fill="#222" >95% HDI</text>
<text x="291.5" y="493.0" font-size="7.4" fill="#222">μ<tspan font-size="5" dy="1.5">x</tspan></text>
<rect x="372.00" y="468.00" width="136.00" height="0.70" fill="#8fd0f5" />
<path d="M377.75,468.70 V468.50 H381.25 V468.70 Z M381.25,468.70 V468.30 H384.75 V468.70 Z M384.75,468.70 V468.10 H388.25 V468.70 Z M388.25,468.70 V467.70 H391.75 V468.70 Z M391.75,468.70 V467.00 H395.25 V468.70 Z M395.25,468.70 V465.80 H398.75 V468.70 Z M398.75,468.70 V463.00 H402.25 V468.70 Z M402.25,468.70 V459.00 H405.75 V468.70 Z M405.65,468.70 V451.00 H409.15 V468.70 Z M409.25,468.70 V444.70 H412.75 V468.70 Z M412.75,468.70 V437.20 H416.25 V468.70 Z M416.25,468.70 V429.60 H419.75 V468.70 Z M419.75,468.70 V418.50 H423.25 V468.70 Z M423.25,468.70 V405.80 H426.75 V468.70 Z M426.75,468.70 V402.70 H430.25 V468.70 Z M430.25,468.70 V401.10 H433.75 V468.70 Z M433.75,468.70 V399.80 H437.25 V468.70 Z M437.25,468.70 V406.60 H440.75 V468.70 Z M440.75,468.70 V415.40 H444.25 V468.70 Z M444.25,468.70 V422.50 H447.75 V468.70 Z M447.75,468.70 V429.30 H451.25 V468.70 Z M451.25,468.70 V436.80 H454.75 V468.70 Z M454.75,468.70 V443.90 H458.25 V468.70 Z M458.25,468.70 V451.00 H461.75 V468.70 Z M461.75,468.70 V457.40 H465.25 V468.70 Z M465.25,468.70 V462.00 H468.75 V468.70 Z M468.75,468.70 V465.00 H472.25 V468.70 Z M472.25,468.70 V467.00 H475.75 V468.70 Z M475.75,468.70 V468.00 H479.25 V468.70 Z M479.25,468.70 V468.30 H482.75 V468.70 Z" fill="#5cc0f6" stroke="#2c88cc" stroke-width="0.75"/>
<rect x="404.60" y="467.00" width="61.60" height="2.80" fill="#111" />
<line x1="370.80" y1="471.50" x2="509.20" y2="471.50" stroke="#333" stroke-width="0.9" />
<line x1="371.70" y1="471.50" x2="371.70" y2="474.10" stroke="#333" stroke-width="0.8" />
<text x="371.70" y="483.64" font-size="7.6" text-anchor="middle" fill="#222" >−5</text>
<line x1="405.53" y1="471.50" x2="405.53" y2="474.10" stroke="#333" stroke-width="0.8" />
<text x="405.53" y="483.64" font-size="7.6" text-anchor="middle" fill="#222" >0</text>
<line x1="439.36" y1="471.50" x2="439.36" y2="474.10" stroke="#333" stroke-width="0.8" />
<text x="439.36" y="483.64" font-size="7.6" text-anchor="middle" fill="#222" >5</text>
<line x1="473.19" y1="471.50" x2="473.19" y2="474.10" stroke="#333" stroke-width="0.8" />
<text x="473.19" y="483.64" font-size="7.6" text-anchor="middle" fill="#222" >10</text>
<line x1="507.02" y1="471.50" x2="507.02" y2="474.10" stroke="#333" stroke-width="0.8" />
<text x="507.02" y="483.64" font-size="7.6" text-anchor="middle" fill="#222" >15</text>
<line x1="405.8" y1="421" x2="405.8" y2="467" stroke="#777" stroke-width="0.8" stroke-dasharray="0.8,1.6"/>
<text x="434.40" y="406.54" font-size="7.6" text-anchor="middle" fill="#222" >median = 4.2</text>
<text x="436.70" y="420.44" font-size="7.6" text-anchor="middle" fill="#2a7048" >3.4% &lt; 0 &lt; 96.6%</text>
<text x="435.70" y="459.24" font-size="7.6" text-anchor="middle" fill="#222" >95% HDI</text>
<text x="411.40" y="465.94" font-size="7.6" text-anchor="end" fill="#222" >−0.30</text>
<text x="463.00" y="463.94" font-size="7.6" text-anchor="start" fill="#222" >9.0</text>
<text x="428.3" y="495.0" font-size="7.4" fill="#222">μ<tspan font-size="5" dy="1.5">x</tspan><tspan dy="-1.5"> − μ</tspan><tspan font-size="5" dy="1.5">y</tspan></text>
<rect x="0.5" y="0.5" width="519" height="504" fill="none" stroke="#6b6b6b" stroke-width="1"/>
</svg>
</body></html>
